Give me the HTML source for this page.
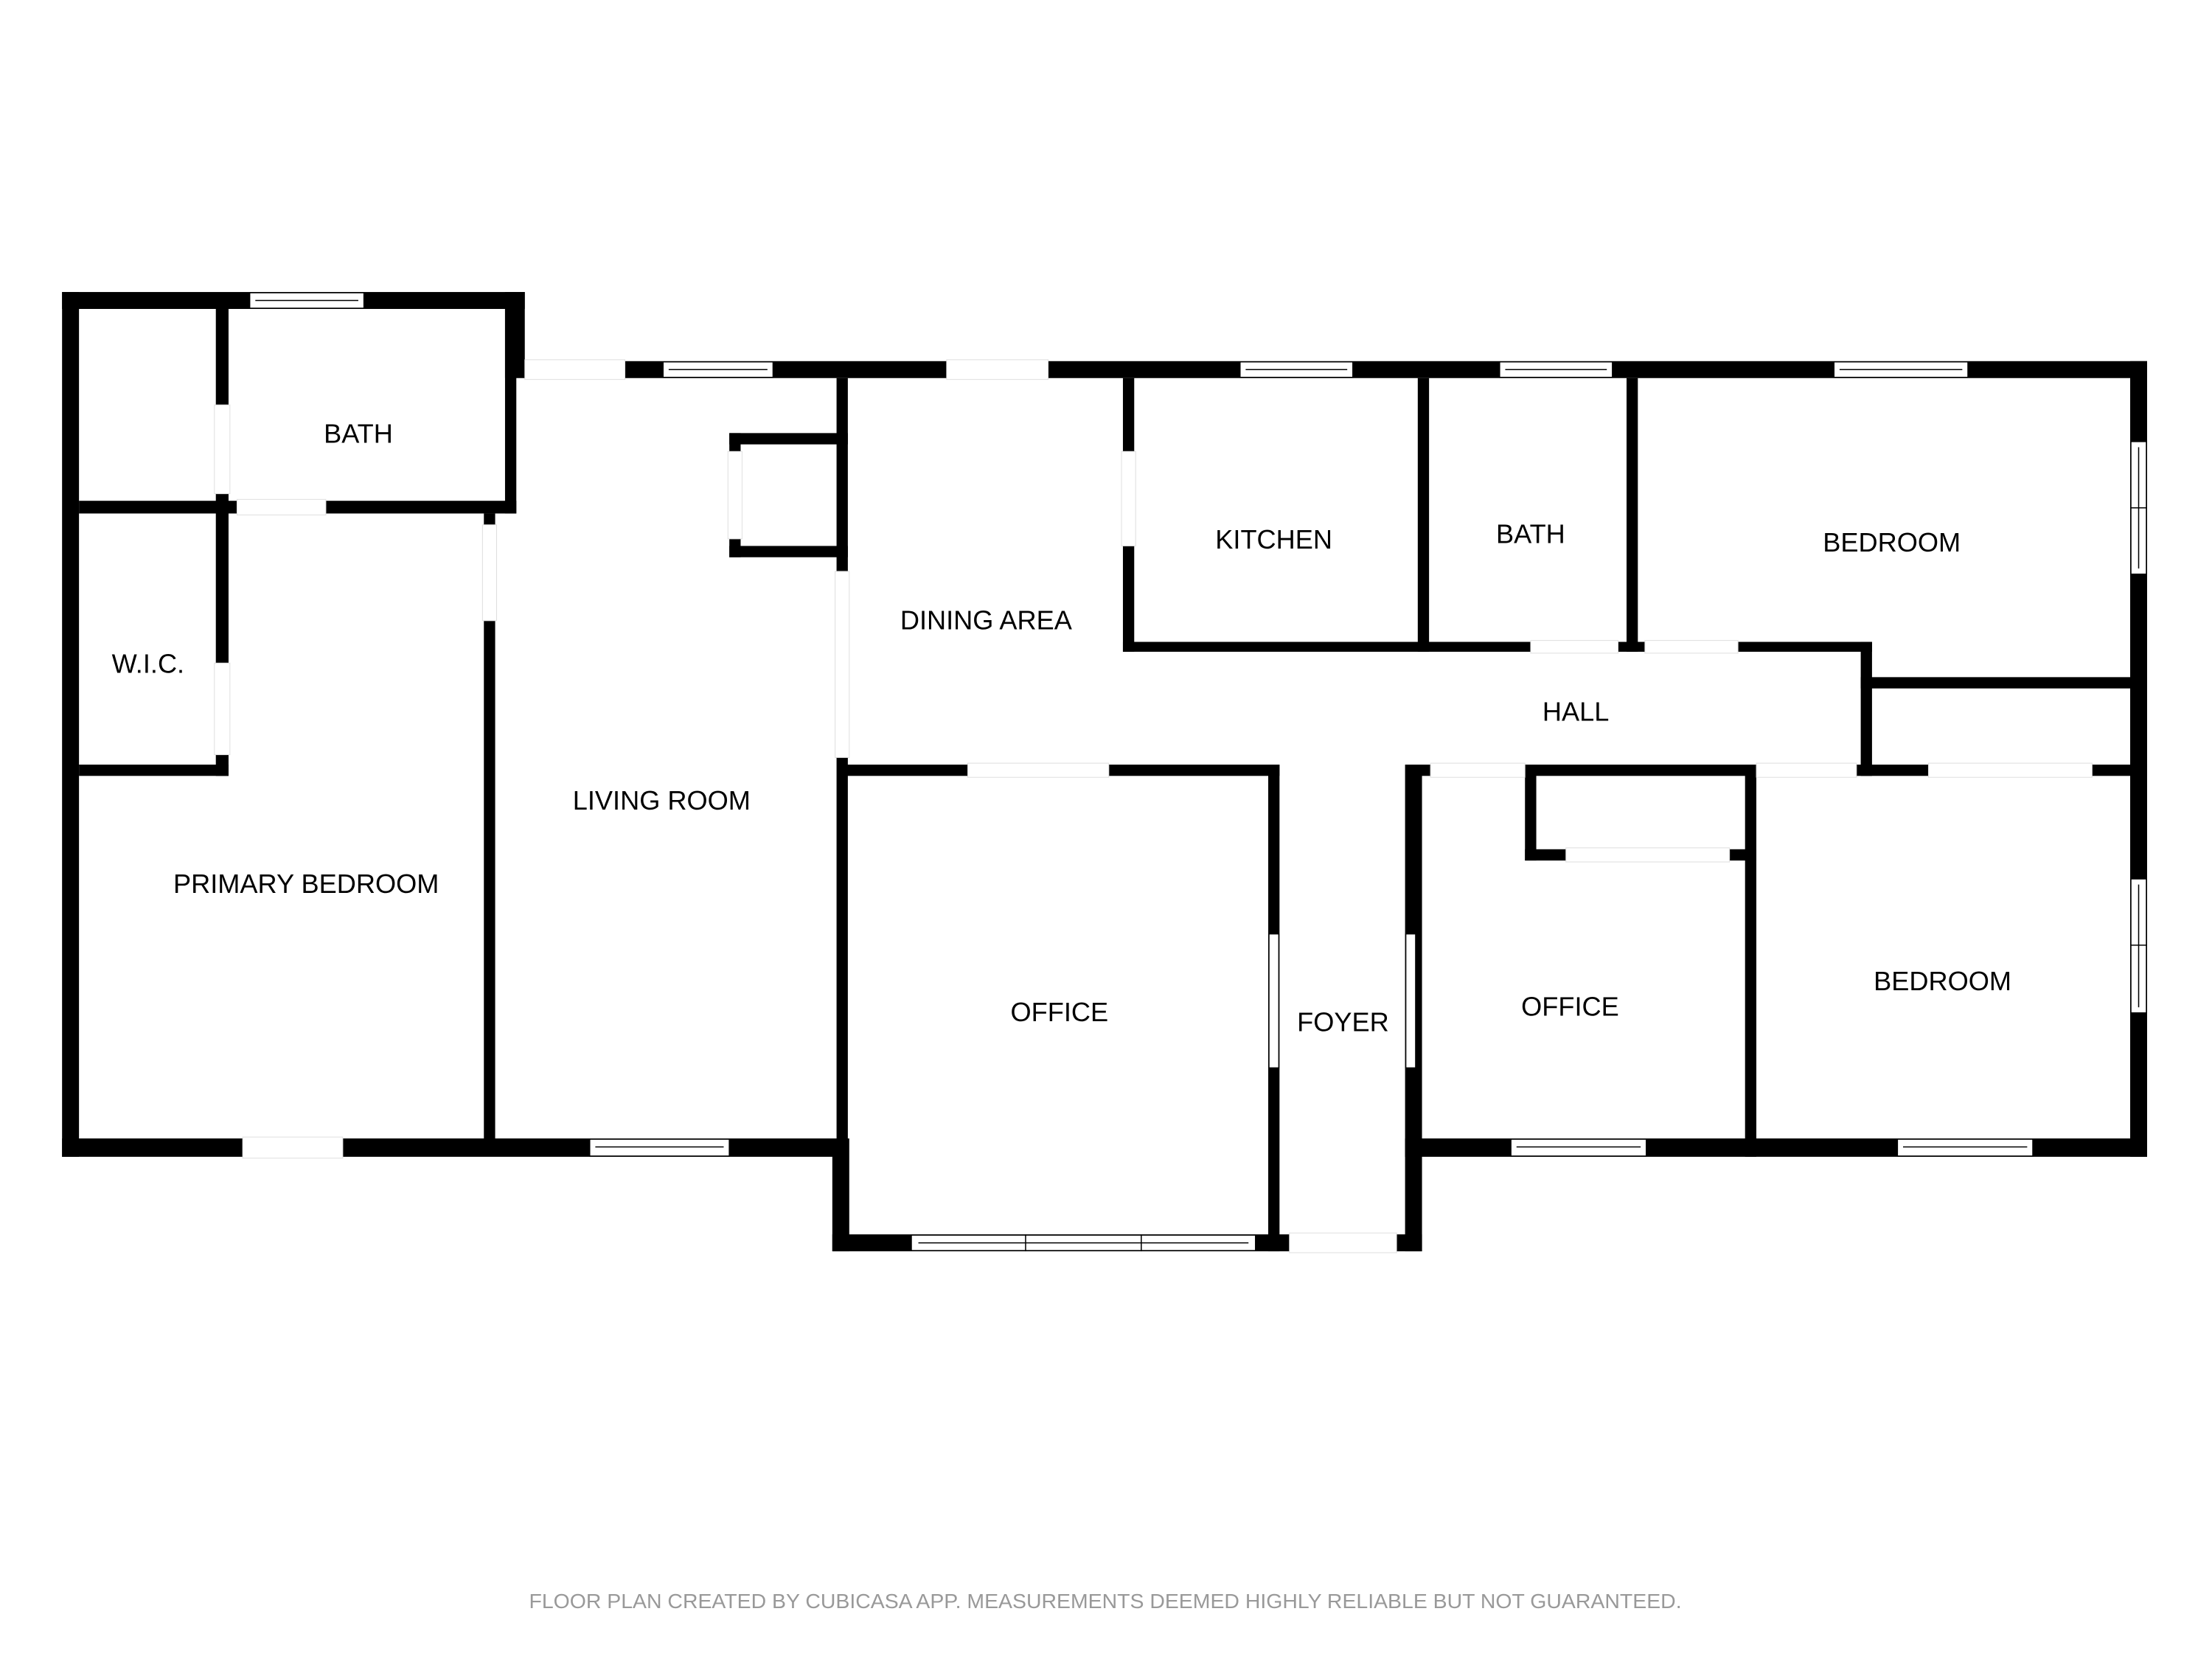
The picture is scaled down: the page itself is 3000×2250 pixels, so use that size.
<!DOCTYPE html>
<html><head><meta charset="utf-8"><style>
html,body{margin:0;padding:0;background:#fff}
svg{display:block}
text{font-family:"Liberation Sans",sans-serif}
</style></head><body>
<svg width="3000" height="2250" viewBox="0 0 1568 1176" preserveAspectRatio="none" xmlns="http://www.w3.org/2000/svg">
<rect x="0" y="0" width="1568" height="1176" fill="#fff"/>
<g fill="#000">
<rect x="44" y="207" width="328" height="12"/>
<rect x="44" y="207" width="12" height="613"/>
<rect x="44" y="807" width="551" height="13"/>
<rect x="358" y="207" width="14" height="61"/>
<rect x="358" y="207" width="8" height="157"/>
<rect x="153" y="219" width="9" height="331"/>
<rect x="56" y="355" width="310" height="9"/>
<rect x="56" y="542" width="106" height="8"/>
<rect x="343" y="364" width="8" height="443"/>
<rect x="372" y="256" width="1150" height="12"/>
<rect x="593" y="268" width="8" height="552"/>
<rect x="590" y="807" width="12" height="80"/>
<rect x="517" y="307" width="84" height="8"/>
<rect x="517" y="307" width="8" height="88"/>
<rect x="517" y="387" width="84" height="8"/>
<rect x="597" y="542" width="310" height="8"/>
<rect x="899" y="542" width="8" height="345"/>
<rect x="590" y="875" width="324" height="12"/>
<rect x="996" y="542" width="12" height="345"/>
<rect x="990" y="875" width="18" height="12"/>
<rect x="796" y="268" width="8" height="194"/>
<rect x="796" y="455" width="531" height="7"/>
<rect x="1005" y="268" width="8" height="194"/>
<rect x="1153" y="268" width="8" height="194"/>
<rect x="1319" y="455" width="8" height="95"/>
<rect x="1319" y="480" width="203" height="8"/>
<rect x="1510" y="256" width="12" height="564"/>
<rect x="1000" y="542" width="522" height="8"/>
<rect x="1081" y="542" width="8" height="68"/>
<rect x="1081" y="602" width="29" height="8"/>
<rect x="1226" y="602" width="19" height="8"/>
<rect x="1237" y="542" width="8" height="278"/>
<rect x="996" y="807" width="526" height="13"/>
</g>
<g fill="#fff" stroke="#ddd" stroke-width="0.5">
<rect x="172" y="806" width="71" height="15"/>
<rect x="152" y="287" width="11" height="63"/>
<rect x="152" y="470" width="11" height="65"/>
<rect x="168" y="354" width="63" height="11"/>
<rect x="342" y="372" width="10" height="68"/>
<rect x="372" y="255" width="71" height="14"/>
<rect x="671" y="255" width="72" height="14"/>
<rect x="592" y="405" width="10" height="132"/>
<rect x="516" y="320" width="10" height="62"/>
<rect x="686" y="541" width="100" height="10"/>
<rect x="914" y="874" width="76" height="14"/>
<rect x="795" y="320" width="10" height="67"/>
<rect x="1085" y="454" width="62" height="9"/>
<rect x="1166" y="454" width="66" height="9"/>
<rect x="1014" y="541" width="67" height="10"/>
<rect x="1245" y="541" width="71" height="10"/>
<rect x="1367" y="541" width="116" height="10"/>
<rect x="1110" y="601" width="116" height="10"/>
</g>
<g fill="#fff" stroke="#000" stroke-width="0.8">
<rect x="177" y="207.5" width="81" height="11"/><line x1="181" y1="213" x2="254" y2="213"/>
<rect x="418" y="807.5" width="99" height="12"/><line x1="422" y1="813" x2="513" y2="813"/>
<rect x="470" y="256.5" width="78" height="11"/><line x1="474" y1="262" x2="544" y2="262"/>
<rect x="879" y="256.5" width="80" height="11"/><line x1="883" y1="262" x2="955" y2="262"/>
<rect x="1063" y="256.5" width="80" height="11"/><line x1="1067" y1="262" x2="1139" y2="262"/>
<rect x="1300" y="256.5" width="95" height="11"/><line x1="1304" y1="262" x2="1391" y2="262"/>
<rect x="1510.5" y="313" width="11" height="94"/><line x1="1516" y1="317" x2="1516" y2="403"/><line x1="1510" y1="360" x2="1522" y2="360"/>
<rect x="1510.5" y="623" width="11" height="95"/><line x1="1516" y1="627" x2="1516" y2="714"/><line x1="1510" y1="670" x2="1522" y2="670"/>
<rect x="899.5" y="662" width="7" height="95"/>
<rect x="996.5" y="662" width="7" height="95"/>
<rect x="646" y="875.5" width="244" height="11"/><line x1="651" y1="881" x2="885" y2="881"/><line x1="727" y1="875" x2="727" y2="887"/><line x1="809" y1="875" x2="809" y2="887"/>
<rect x="1071" y="807.5" width="96" height="12"/><line x1="1075" y1="813" x2="1163" y2="813"/>
<rect x="1345" y="807.5" width="96" height="12"/><line x1="1349" y1="813" x2="1437" y2="813"/>
</g>
<g fill="#000" font-size="18.9" text-anchor="middle">
<text x="254" y="314">BATH</text>
<text x="105" y="477">W.I.C.</text>
<text x="217" y="633">PRIMARY BEDROOM</text>
<text x="469" y="574">LIVING ROOM</text>
<text x="699" y="446">DINING AREA</text>
<text x="903" y="389">KITCHEN</text>
<text x="1085" y="385">BATH</text>
<text x="1341" y="391">BEDROOM</text>
<text x="1117" y="511">HALL</text>
<text x="751" y="724">OFFICE</text>
<text x="952" y="731">FOYER</text>
<text x="1113" y="720">OFFICE</text>
<text x="1377" y="702">BEDROOM</text>
</g>
<text x="375" y="1140" font-size="14.5" fill="#999" textLength="817" lengthAdjust="spacingAndGlyphs">FLOOR PLAN CREATED BY CUBICASA APP. MEASUREMENTS DEEMED HIGHLY RELIABLE BUT NOT GUARANTEED.</text>
</svg>
</body></html>
